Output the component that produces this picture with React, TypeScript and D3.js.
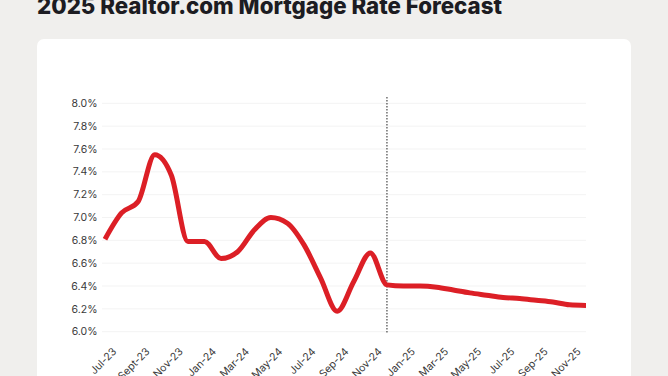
import React from "react";
import * as d3 from "d3";

const months = [
  "Jul-23","Aug-23","Sep-23","Oct-23","Nov-23","Dec-23",
  "Jan-24","Feb-24","Mar-24","Apr-24","May-24","Jun-24",
  "Jul-24","Aug-24","Sep-24","Oct-24","Nov-24","Dec-24",
  "Jan-25","Feb-25","Mar-25","Apr-25","May-25","Jun-25",
  "Jul-25","Aug-25","Sep-25","Oct-25","Nov-25","Dec-25",
];
const rates = [
  6.81, 7.04, 7.14, 7.55, 7.37, 6.79,
  6.79, 6.64, 6.70, 6.89, 7.00, 6.95,
  6.76, 6.47, 6.18, 6.44, 6.69, 6.41,
  6.40, 6.40, 6.39, 6.365, 6.34, 6.32,
  6.30, 6.29, 6.275, 6.26, 6.235, 6.23,
];
const tickLabels: [string, string][] = [
  ["Jul-23","Jul-23"],["Sep-23","Sept-23"],["Nov-23","Nov-23"],["Jan-24","Jan-24"],
  ["Mar-24","Mar-24"],["May-24","May-24"],["Jul-24","Jul-24"],["Sep-24","Sep-24"],
  ["Nov-24","Nov-24"],["Jan-25","Jan-25"],["Mar-25","Mar-25"],["May-25","May-25"],
  ["Jul-25","Jul-25"],["Sep-25","Sep-25"],["Nov-25","Nov-25"],
];
const yTicks = [6.0, 6.2, 6.4, 6.6, 6.8, 7.0, 7.2, 7.4, 7.6, 7.8, 8.0];
const forecastStart = "Dec-24";
const title = "2025 Realtor.com Mortgage Rate Forecast";

export default function App() {
  const W = 668, H = 376;
  const x = d3.scalePoint<string>().domain(months).range([105, 586]);
  const y = d3.scaleLinear().domain([6, 8]).range([331.7, 103.3]);
  const line = d3
    .line<number>()
    .x((_, i) => x(months[i])!)
    .y((d) => y(d))
    .curve(d3.curveMonotoneX);
  const font = "Inter, 'Noto Sans', sans-serif";
  return (
    <svg
      width={W}
      height={H}
      style={{ position: "fixed", left: 0, top: 0, display: "block" }}
    >
      <rect x={0} y={0} width={W} height={H} fill="#f0efed" />
      <text
        x={37}
        y={14}
        fontFamily={font}
        fontWeight={800}
        fontSize={23}
        fill="#1c1c22"
        textLength={465}
        lengthAdjust="spacingAndGlyphs"
      >
        {title}
      </text>
      <rect x={37} y={39} width={594} height={360} rx={7} fill="#ffffff" />
      {yTicks.map((t) => (
        <g key={t}>
          <line x1={102} x2={586} y1={y(t)} y2={y(t)} stroke="#f3f3f3" strokeWidth={1} />
          <text
            x={97.5}
            y={y(t)}
            dy="0.35em"
            textAnchor="end"
            fontFamily={font}
            fontSize={10.5}
            fill="#3a3a3a"
          >
            {t.toFixed(1)}%
          </text>
        </g>
      ))}
      <line
        x1={x(forecastStart)!}
        x2={x(forecastStart)!}
        y1={97}
        y2={334}
        stroke="#222"
        strokeWidth={1}
        strokeDasharray="1.5,1.5"
      />
      <path
        d={line(rates) || ""}
        fill="none"
        stroke="#dc1f26"
        strokeWidth={5}
        strokeLinejoin="round"
        strokeLinecap="butt"
      />
      {tickLabels.map(([m, lab]) => (
        <text
          key={m}
          transform={`translate(${x(m)! + 7},${347}) rotate(-45)`}
          textAnchor="end"
          dy="0.7em"
          fontFamily={font}
          fontSize={10.5}
          fill="#3a3a3a"
        >
          {lab}
        </text>
      ))}
    </svg>
  );
}
